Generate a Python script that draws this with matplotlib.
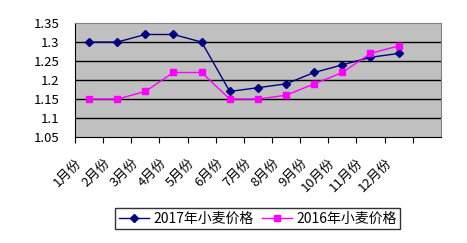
import numpy as np
import matplotlib
matplotlib.use('Agg')
import matplotlib.pyplot as plt

plt.rcParams['font.family'] = ['Noto Sans CJK SC', 'DejaVu Sans']

# data
months = ['1月份', '2月份', '3月份', '4月份', '5月份', '6月份',
          '7月份', '8月份', '9月份', '10月份', '11月份', '12月份', '']
price_2017 = [1.30, 1.30, 1.32, 1.32, 1.30, 1.17, 1.18, 1.19, 1.22, 1.24, 1.26, 1.27]
price_2016 = [1.15, 1.15, 1.17, 1.22, 1.22, 1.15, 1.15, 1.16, 1.19, 1.22, 1.27, 1.29]
yticks = [1.05, 1.1, 1.15, 1.2, 1.25, 1.3, 1.35]
ylabels = ['1.05', '1.1', '1.15', '1.2', '1.25', '1.3', '1.35']

fig = plt.figure(figsize=(4.67, 2.43), dpi=100)
ax = fig.add_axes([0.1606, 0.436, 0.7834, 0.469])
ax.set_facecolor('#c0c0c0')

x = np.arange(len(price_2017))
ax.plot(x, price_2017, color='#000080', marker='D', markersize=4, lw=1,
        label='2017年小麦价格')
ax.plot(x, price_2016, color='#ff00ff', marker='s', markersize=5, lw=1,
        label='2016年小麦价格')

ax.set_xlim(-0.5, len(months) - 0.5)
ax.set_ylim(1.05, 1.35)
ax.set_yticks(yticks)
ax.set_yticklabels(ylabels, fontsize=9.5)
ax.tick_params(axis='y', length=0, pad=11)
for v in yticks[1:-1]:
    ax.axhline(v, color='black', lw=1, zorder=0.5)

# ticks between categories, labels at centres
ax.set_xticks(np.arange(len(months)) - 0.5, minor=False)
ax.set_xticklabels([])
ax.tick_params(axis='x', length=4, direction='out', color='black')
for i, m in enumerate(months):
    ax.annotate(m, xy=(i, 1.05), xycoords='data', xytext=(-10, -14),
                textcoords='offset points', rotation=45, ha='right', va='top',
                rotation_mode='anchor', fontsize=9.5)

for s in ['top', 'right']:
    ax.spines[s].set_color('#808080')
for s in ['left', 'bottom']:
    ax.spines[s].set_color('black')

leg = fig.legend(loc='center', bbox_to_anchor=(0.552, 0.1), ncol=2,
                 fontsize=10, frameon=True, fancybox=False, handlelength=2.2,
                 handletextpad=0.3, columnspacing=0.6, borderpad=0.25,
                 borderaxespad=0)
leg.get_frame().set_edgecolor('black')
leg.get_frame().set_linewidth(1)

fig.savefig('out.png', dpi=100)
